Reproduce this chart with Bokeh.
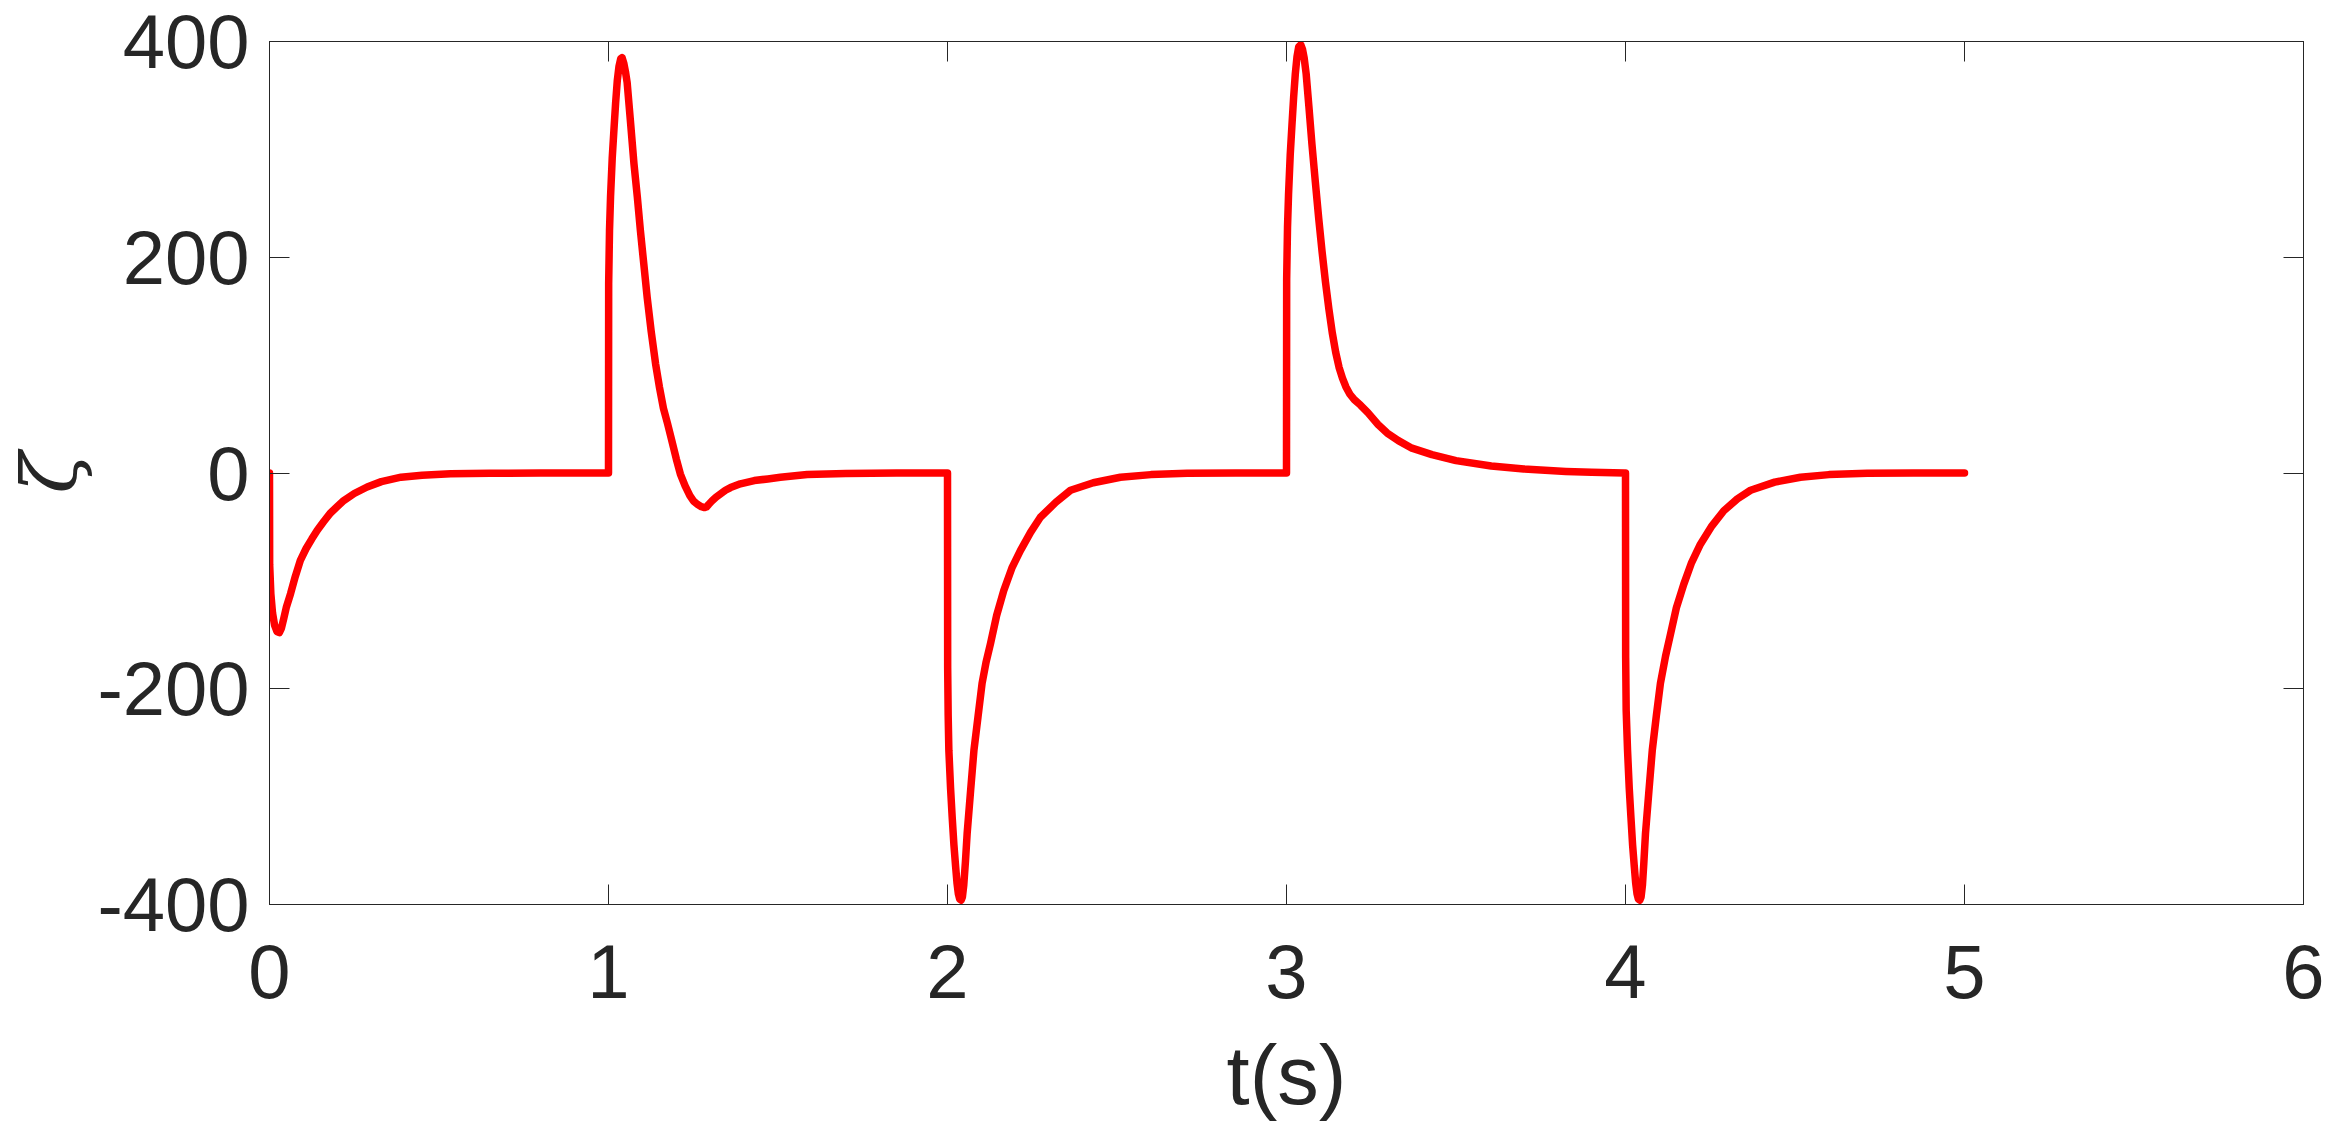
from bokeh.plotting import figure
from bokeh.models import Range1d, FixedTicker, LinearAxis
from bokeh.embed import file_html
from bokeh.resources import INLINE

# ---- data ----
t_seg1 = [0.0, 0.0005, 0.004, 0.009, 0.015, 0.022, 0.029, 0.035, 0.042, 0.05, 0.062, 0.076, 0.091,
          0.108, 0.125, 0.141, 0.16, 0.18, 0.2, 0.219, 0.25, 0.288, 0.33, 0.388, 0.45, 0.534, 0.65,
          0.8, 0.997]
z_seg1 = [0, -85, -112, -130, -141, -147, -148, -144, -135, -124, -112, -96, -81,
          -70, -61, -53, -45, -37, -31, -25.5, -19, -13, -8, -3.9, -2, -0.8, -0.3,
          -0.1, 0]

t_seg2 = [1.0, 1.0005, 1.003, 1.006, 1.011, 1.016, 1.021, 1.026, 1.031, 1.036, 1.040, 1.045, 1.050,
          1.055, 1.065, 1.075, 1.085, 1.094, 1.104, 1.114, 1.126, 1.139, 1.15, 1.162, 1.174, 1.186,
          1.2, 1.212, 1.226, 1.24, 1.251, 1.262, 1.274, 1.283, 1.289, 1.296, 1.305, 1.317, 1.330,
          1.345, 1.36, 1.389, 1.43, 1.47, 1.507, 1.586, 1.7, 1.85, 1.997]
z_seg2 = [0, 176, 225, 256, 292, 318, 343, 364, 377, 384, 385, 380, 372,
          362, 325, 287, 256, 225, 194, 163, 131, 101, 80, 60, 46, 31,
          13, -1, -12, -21, -26, -29, -31.2, -32, -31.5, -29, -26, -22.5, -19.5,
          -16, -13.5, -10, -7, -5.5, -4, -1.4, -0.5, -0.1, 0]

t_seg3 = [2.0, 2.0005, 2.002, 2.004, 2.009, 2.0138, 2.019, 2.024, 2.028, 2.032, 2.036, 2.040, 2.044,
          2.048, 2.053, 2.058, 2.068, 2.078, 2.090, 2.102, 2.114, 2.127, 2.145, 2.166, 2.19, 2.215,
          2.245, 2.274, 2.32, 2.363, 2.43, 2.51, 2.6, 2.707, 2.85, 2.999]
z_seg3 = [0, -180, -225, -257, -292, -319, -345, -365, -380, -390, -395, -396, -393,
          -382, -360, -334, -295, -257, -226, -195, -175, -158, -132, -109, -88, -72,
          -55, -41, -27, -16, -9, -3.9, -1.5, -0.2, 0, 0]

t_seg4 = [3.0, 3.0005, 3.003, 3.006, 3.011, 3.016, 3.021, 3.026, 3.031, 3.036, 3.042, 3.047, 3.052,
          3.058, 3.066, 3.075, 3.085, 3.095, 3.105, 3.115, 3.125, 3.135, 3.145, 3.155, 3.165, 3.175,
          3.187, 3.2, 3.218, 3.24, 3.27, 3.297, 3.33, 3.37, 3.429, 3.5, 3.604, 3.7, 3.824, 3.9, 3.997]
z_seg4 = [0, 180, 228, 258, 295, 322, 348, 370, 386, 395, 397, 393, 385,
          370, 340, 305, 270, 236, 205, 177, 152, 130, 112, 98, 88, 80,
          73, 68, 63, 56, 45, 37, 30, 23, 17, 11.5, 6.5, 3.8, 1.5, 0.6, 0]

t_seg5 = [4.0, 4.0005, 4.002, 4.006, 4.011, 4.016, 4.021, 4.026, 4.030, 4.034, 4.038, 4.042, 4.046,
          4.050, 4.054, 4.059, 4.069, 4.079, 4.091, 4.103, 4.118, 4.133, 4.15, 4.172, 4.195, 4.221,
          4.255, 4.290, 4.33, 4.369, 4.44, 4.516, 4.6, 4.713, 4.85, 5.0]
z_seg5 = [0, -171, -220, -257, -292, -319, -345, -365, -380, -390, -395, -396, -393,
          -382, -362, -334, -295, -257, -225, -195, -170, -149, -125, -103, -83, -66,
          -49, -35, -24, -16, -8.5, -3.9, -1.5, -0.2, 0, 0]

x_ticks = [0, 1, 2, 3, 4, 5, 6]
x_tick_labels = ["0", "1", "2", "3", "4", "5", "6"]
y_ticks = [-400, -200, 0, 200, 400]
y_tick_labels = ["-400", "-200", "0", "200", "400"]
x_label = "t(s)"
y_label = "ζ"

t_all = t_seg1 + t_seg2 + t_seg3 + t_seg4 + t_seg5
z_all = z_seg1 + z_seg2 + z_seg3 + z_seg4 + z_seg5

AX = "#262626"
FONT = "Liberation Sans"

p = figure(width=2338, height=1148, output_backend="svg", toolbar_location=None,
           x_range=Range1d(0, 6), y_range=Range1d(-400, 400),
           min_border_left=269, min_border_right=35, min_border_top=41, min_border_bottom=244)
p.grid.visible = False
p.background_fill_color = "white"
p.border_fill_color = "white"
p.outline_line_color = AX
p.outline_line_width = 1

p.line(t_all, z_all, line_color="#ff0000", line_width=7.5, line_join="round", line_cap="round")


def style(ax, ticks, labels, show_labels):
    ax.ticker = FixedTicker(ticks=ticks)
    ax.axis_line_color = AX
    ax.axis_line_width = 1
    ax.major_tick_line_color = AX
    ax.major_tick_line_width = 1
    ax.major_tick_in = 20
    ax.major_tick_out = 0
    ax.minor_tick_line_color = None
    ax.major_label_text_font = FONT
    if show_labels:
        ax.major_label_overrides = {tk: lb for tk, lb in zip(ticks, labels)}
        ax.major_label_text_color = AX
        ax.major_label_text_font_size = "76px"
    else:
        ax.major_label_text_color = None
        ax.major_label_text_font_size = "1px"
        ax.major_label_standoff = 0


xa = p.xaxis[0]
ya = p.yaxis[0]
style(xa, x_ticks, x_tick_labels, True)
style(ya, y_ticks, y_tick_labels, True)
xa.major_label_standoff = 40
ya.major_label_standoff = 20
xa.axis_label = x_label
xa.axis_label_text_font = FONT
xa.axis_label_text_font_size = "83px"
xa.axis_label_text_font_style = "normal"
xa.axis_label_text_color = AX
xa.axis_label_standoff = 28
ya.axis_label = y_label
ya.axis_label_text_font = "DejaVu Serif"
ya.axis_label_text_font_size = "76px"
ya.axis_label_text_font_style = "italic"
ya.axis_label_text_color = AX
ya.axis_label_standoff = 0

ra = LinearAxis()
style(ra, y_ticks, y_tick_labels, False)
p.add_layout(ra, "right")
ta = LinearAxis()
style(ta, x_ticks, x_tick_labels, False)
p.add_layout(ta, "above")

open("out.html", "w").write(file_html(p, INLINE))
